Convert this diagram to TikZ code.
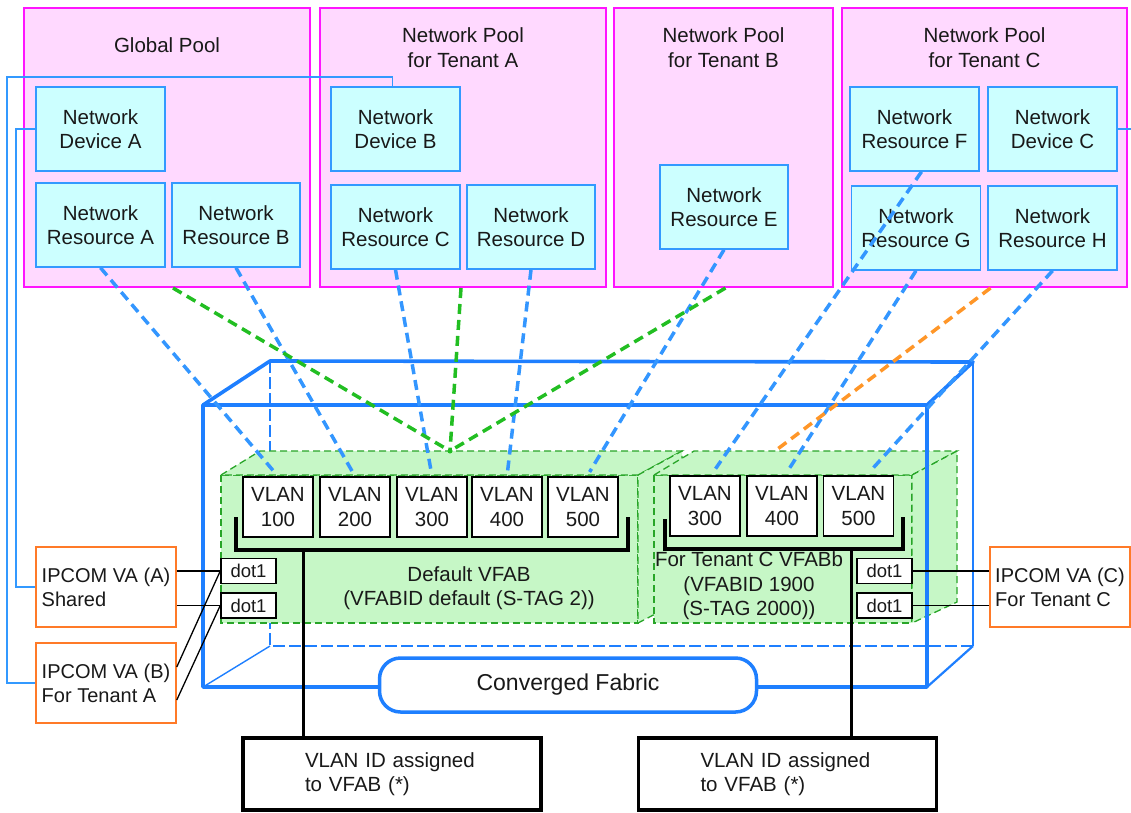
\documentclass[tikz,border=0pt]{standalone}
\usepackage{fontspec}
\setmainfont{Liberation Sans}
\usetikzlibrary{calc}
\definecolor{pinkfill}{RGB}{255,217,255}
\definecolor{poolborder}{RGB}{255,20,255}
\definecolor{resfill}{RGB}{204,255,255}
\definecolor{resborder}{RGB}{51,153,255}
\definecolor{cubeblue}{RGB}{30,127,255}
\definecolor{dashblue}{RGB}{51,150,255}
\definecolor{vfabfill}{RGB}{198,247,198}
\definecolor{vfabborder}{RGB}{40,165,40}
\definecolor{dashgreen}{RGB}{34,190,34}
\definecolor{dashorange}{RGB}{255,150,40}
\definecolor{ipborder}{RGB}{255,122,40}
\definecolor{txt}{RGB}{25,25,25}
\tikzset{
  poolbox/.style={draw=poolborder, line width=2pt, fill=pinkfill, inner sep=0pt, minimum height=279pt, minimum width=#1},
  titletext/.style={align=center, inner sep=0pt, text=txt},
  resbox/.style={draw=resborder, line width=1.5pt, fill=resfill, inner sep=0pt, align=center, minimum width=129pt, minimum height=84pt, text=txt},
  vlanbox/.style={draw=black, line width=1.5pt, fill=white, inner sep=0pt, align=center, minimum width=70pt, minimum height=60pt, text=txt},
  dotbox/.style={draw=black, line width=1.5pt, fill=white, inner sep=0pt, minimum width=55pt, minimum height=25pt, text=txt, font=\fontsize{18.5}{20}\selectfont},
  ipbox/.style={draw=ipborder, line width=1.5pt, fill=white, inner sep=0pt, minimum width=140pt, minimum height=80pt, align=left, text=txt, font=\fontsize{20}{24}\selectfont},
  botbox/.style={draw=black, line width=3.5pt, fill=white, inner sep=0pt, minimum width=298pt, minimum height=72pt, align=left, text width=174pt, text=txt},
  fabric/.style={draw=cubeblue, line width=3.5pt, fill=white, rounded corners=21pt, minimum width=377pt, minimum height=54pt, inner sep=0pt, text=txt, font=\fontsize{23}{27}\selectfont},
  vfab/.style={draw=vfabborder, fill=vfabfill, line width=1.3pt, dash pattern=on 7pt off 4pt},
  lbl/.style={align=center, inner sep=0pt, text=txt},
  thinblue/.style={draw=resborder, line width=1.7pt},
  cubethick/.style={draw=cubeblue, line width=3.6pt, line join=round},
  cubethin/.style={draw=cubeblue, line width=1.4pt},
  cubehidden/.style={draw=cubeblue, line width=1.4pt, dash pattern=on 12pt off 4pt},
  bracket/.style={draw=black, line width=3.5pt},
  conn/.style={draw=black, line width=1.3pt},
  bdash/.style={draw=dashblue, line width=3.5pt, dash pattern=on 10pt off 6pt, shorten >=5pt},
  gdash/.style={draw=dashgreen, line width=3.5pt, dash pattern=on 10pt off 6pt},
  odash/.style={draw=dashorange, line width=3.5pt, dash pattern=on 10pt off 6pt},
}
\begin{document}
\begin{tikzpicture}[x=1pt, y=-1pt, font=\fontsize{20.5}{24.5}\selectfont]
\useasboundingbox (0,0) rectangle (1131,812);

% ---------- pools ----------
\node[poolbox=286pt] (gp) at (167,147.5) {};
\node[poolbox=286pt] (pA) at (463,147.5) {};
\node[poolbox=219pt] (pB) at (723.5,147.5) {};
\node[poolbox=285pt] (pC) at (984.5,147.5) {};
\node[titletext] (tgp) at (167,45) {Global Pool};
\node[titletext] (tpA) at (463,47.5) {Network Pool\\for Tenant A};
\node[titletext] (tpB) at (723.5,47.5) {Network Pool\\for Tenant B};
\node[titletext] (tpC) at (984.5,47.5) {Network Pool\\for Tenant C};

% ---------- resources ----------
\node[resbox] (ndA) at (100.5,129) {Network\\Device A};
\node[resbox] (nrA) at (100.5,225) {Network\\Resource A};
\node[resbox, minimum width=128pt] (nrB) at (236,225) {Network\\Resource B};
\node[resbox] (ndB) at (395.5,129) {Network\\Device B};
\node[resbox] (nrC) at (395.5,227) {Network\\Resource C};
\node[resbox, minimum width=128pt] (nrD) at (531,227) {Network\\Resource D};
\node[resbox, minimum width=128pt] (nrE) at (724,207) {Network\\Resource E};
\node[resbox] (nrF) at (914.5,129) {Network\\Resource F};
\node[resbox] (ndC) at (1052.5,129) {Network\\Device C};
\node[resbox] (nrG) at (916,228) {Network\\Resource G};
\node[resbox] (nrH) at (1052.5,228) {Network\\Resource H};

% ---------- cube (back / hidden parts) ----------
\coordinate (FTL) at (203,405);
\coordinate (FTR) at (927,405);
\coordinate (FBR) at (927,687);
\coordinate (FBL) at (203,687);
\coordinate (BTL) at (270,361);
\coordinate (BTR) at (973,362);
\coordinate (BBR) at (973,646);
\coordinate (BBL) at (270,646);
\draw[cubehidden] (BTL) -- (BBL) -- (BBR);
\draw[cubethin] (FBL) -- (BBL);

% ---------- VFAB boxes ----------
\path[vfab] (221,475) rectangle (638,623);
\path[vfab] (221,475) -- (260,451) -- (682,451) -- (638,475) -- cycle;
\path[vfab] (638,475) -- (682,451) -- (682,600) -- (638,623) -- cycle;
\path[vfab] (654,475) rectangle (912,623);
\path[vfab] (654,475) -- (694,451) -- (957,451) -- (912,475) -- cycle;
\path[vfab] (912,475) -- (957,451) -- (957,602) -- (912,623) -- cycle;
\coordinate (gconv) at (450,451);
\coordinate (oend) at (775,451);

% ---------- VLANs ----------
\node[vlanbox] (v100) at (278,507) {VLAN\\100};
\node[vlanbox] (v200) at (355,507) {VLAN\\200};
\node[vlanbox] (v300) at (432,507) {VLAN\\300};
\node[vlanbox] (v400) at (507,507) {VLAN\\400};
\node[vlanbox] (v500) at (583,507) {VLAN\\500};
\node[vlanbox] (vc300) at (705,506) {VLAN\\300};
\node[vlanbox] (vc400) at (782,506) {VLAN\\400};
\node[vlanbox] (vc500) at (858.5,506) {VLAN\\500};

\draw[bracket] (236,517) -- (236,550) -- (628,550) -- (628,517);
\draw[bracket] (665,519) -- (665,549) -- (903,549) -- (903,517);
\coordinate (dropL) at (303,550);
\coordinate (dropR) at (851,549);

\node[lbl] (lD) at (469,588) {Default VFAB\\(VFABID default (S-TAG 2))};
\node[lbl] (lC) at (749,586) {For Tenant C VFABb\\(VFABID 1900\\(S-TAG 2000))};

% ---------- cube (visible edges) ----------
\draw[cubethick] (FBL) -- (FTL) -- (FTR) -- (FBR) -- cycle;
\draw[cubethick] (FTL) -- (BTL) -- (BTR) -- (FTR);
\draw[cubeblue, line width=2.8pt] (BTR) -- (BBR);
\draw[cubeblue, line width=2.2pt] (BBR) -- (FBR);
\node[fabric] (cf) at (568,685) {Converged Fabric};

% ---------- bottom boxes ----------
\node[botbox] (bl) at (392,774) {VLAN ID assigned\\to VFAB (*)};
\node[botbox] (br) at (787.5,774) {VLAN ID assigned\\to VFAB (*)};
\draw[black, line width=3pt] (dropL) -- (dropL |- bl.north);
\draw[black, line width=3pt] (dropR) -- (dropR |- br.north);

% ---------- IPCOM and dot1 ----------
\node[ipbox] (ipA) at (106,587) {IPCOM VA (A)\\Shared\hspace*{60pt}};
\node[ipbox] (ipB) at (106,683) {IPCOM VA (B)\\For Tenant A};
\node[ipbox] (ipC) at (1060,587) {IPCOM VA (C)\\For Tenant C};
\node[dotbox] (d1) at (248.5,571) {dot1};
\node[dotbox] (d2) at (248.5,605.5) {dot1};
\node[dotbox] (d3) at (884.5,571) {dot1};
\node[dotbox] (d4) at (884.5,605.5) {dot1};

\draw[conn] (ipA.east |- d1.west) -- (d1.west);
\draw[conn] (ipA.east |- d2.west) -- (d2.west);
\draw[conn] ($(ipB.east)+(0,-16)$) -- (d1.west);
\draw[conn] ($(ipB.east)+(0,17)$) -- (d2.west);
\draw[conn] (d3.east) -- (d3.east -| ipC.west);
\draw[conn] (d4.east) -- (d4.east -| ipC.west);

% ---------- thin blue device lines ----------
\draw[thinblue] (ndA.west) -- ++(-19,0) |- (ipA.west);
\draw[thinblue] ([xshift=-3pt]ndB.north) |- (7,77) |- (ipB.west);
\draw[thinblue] (ndC.east) -- ++(16,0);

% ---------- dashed associations ----------
\draw[bdash] (nrA.south) -- (v100.north);
\draw[bdash] (nrB.south) -- (v200.north);
\draw[bdash] (nrC.south) -- (v300.north);
\draw[bdash] (nrD.south) -- (v400.north);
\draw[bdash] (nrE.south) -- ([xshift=4pt]v500.north);
\draw[bdash, shorten >=8pt] ([xshift=7pt]nrF.south) -- ([xshift=6pt]vc300.north);
\draw[bdash] (nrG.south) -- ([xshift=3pt]vc400.north);
\draw[bdash] (nrH.south) -- ([xshift=8pt]vc500.north);
\draw[gdash] ([xshift=6pt]gp.south) -- (gconv);
\draw[gdash] ([xshift=-2pt]pA.south) -- (gconv);
\draw[gdash] ([xshift=2pt]pB.south) -- (gconv);
\fill[dashgreen] (gconv) circle (2.5pt);
\draw[odash] ([xshift=6pt]pC.south) -- (oend);
\end{tikzpicture}
\end{document}
